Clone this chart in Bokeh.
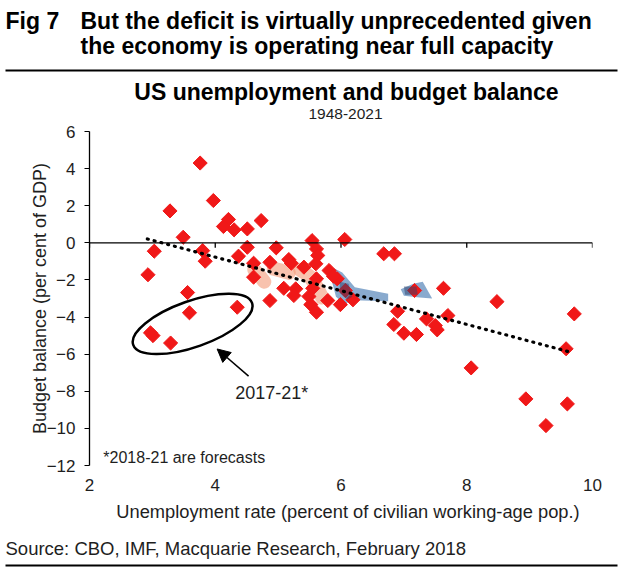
from bokeh.plotting import figure
from bokeh.layouts import column
from bokeh.models import Range1d, Label, Arrow, NormalHead, Span, FixedTicker
from bokeh.core.properties import value
from bokeh.embed import file_html
from bokeh.resources import INLINE
import math

# ---------------- data ----------------
unemployment = [3.76, 3.97, 3.28, 4.21, 4.13, 4.30, 4.51, 4.73, 3.49, 3.03,
                3.80, 3.84, 4.51, 4.37, 4.61, 2.93, 4.61, 4.87, 4.97, 5.17,
                5.21, 5.41, 5.54, 5.61, 5.63, 5.60, 5.81, 5.94, 5.61, 6.06,
                6.68, 6.85, 5.09, 5.28, 5.25, 5.49, 5.52, 5.61, 5.79, 5.99,
                6.19, 4.87, 6.07, 7.17, 7.63, 8.48, 9.71, 6.90, 6.84, 7.00,
                7.20, 7.36, 7.50, 7.53, 7.70, 9.58, 8.07, 8.94, 9.60, 9.26,
                3.56, 3.59, 4.35, 2.97, 3.01, 3.29, 5.88, 5.55]
budget_balance = [4.30, 2.28, 1.72, 1.26, 0.88, 0.70, 0.75, 1.20, 0.30, -0.45,
                  -0.42, -0.99, -0.24, -0.72, -1.10, -1.72, -1.85, -1.05, -0.27, -0.90,
                  -1.10, -1.31, 0.12, -0.33, -0.68, -1.13, -1.49, -1.94, -1.94, 0.18,
                  -0.59, -0.59, -2.45, -2.48, -2.84, -2.89, -3.33, -3.74, -3.11, -3.33,
                  -3.07, -3.11, -2.57, -2.57, -2.45, -3.17, -3.83, -3.69, -4.40, -4.87,
                  -4.94, -4.10, -4.46, -4.69, -3.92, -5.71, -6.74, -8.41, -8.68, -9.85,
                  -2.68, -3.77, -3.47, -4.85, -5.00, -5.40, -1.80, -2.45]

trend_x = [2.92, 9.66]
trend_y = [0.21, -5.90]

x_ticks = [2, 4, 6, 8, 10]
y_ticks = [-12, -10, -8, -6, -4, -2, 0, 2, 4, 6]

# faint shaded smudges in the source picture
orange_smudge_x = [[4.62, 4.70, 4.78], [4.93, 5.05, 5.17], [5.35, 5.50, 5.62, 5.70]]
orange_smudge_y = [[-1.45, -1.75, -2.10], [-1.40, -1.50, -1.62], [-1.45, -1.80, -2.40, -2.95]]
blue_smudge_x = [[5.88, 6.02, 6.22, 6.75, 6.75, 6.20, 6.05, 5.92, 5.85],
                 [6.95, 7.15, 7.30, 7.45, 7.25, 7.00]]
blue_smudge_y = [[-1.35, -1.60, -2.40, -2.75, -3.15, -3.10, -3.30, -2.90, -2.00],
                 [-2.50, -2.20, -2.10, -3.00, -2.95, -2.85]]
dark_smudge_x = [[5.98, 6.12, 6.18, 6.10, 5.98], [7.00, 7.20, 7.22, 7.02]]
dark_smudge_y = [[-2.10, -2.20, -2.90, -3.05, -2.70], [-2.35, -2.35, -2.80, -2.80]]

ellipse_center = (3.64, -4.37)
arrow_tail = (4.53, -7.18)
arrow_tip = (4.03, -5.72)

FONT = "Liberation Sans"
W = 622
TXT = "#1e1e1e"

# ---------------- header ----------------
hdr = figure(width=W, height=120, x_range=Range1d(0, W), y_range=Range1d(120, 0),
             x_axis_type=None, y_axis_type=None, toolbar_location=None,
             output_backend="svg", min_border=0, outline_line_color=None,
             frame_align=False)
hdr.grid.visible = False
hdr.text(x=[5], y=[20], text=["Fig 7"], text_font=value(FONT), text_font_style="bold",
         text_font_size="23px", text_baseline="middle", text_color="black")
hdr.text(x=[80, 80], y=[20, 45],
         text=["But the deficit is virtually unprecedented given",
               "the economy is operating near full capacity"],
         text_font=value(FONT), text_font_style="bold",
         text_font_size="23px", text_baseline="middle", text_color="black")
hdr.segment(x0=[5], y0=[70], x1=[617], y1=[70], line_color="black", line_width=2)
hdr.text(x=[346], y=[91], text=["US unemployment and budget balance"],
         text_font=value(FONT), text_font_style="bold", text_font_size="23px",
         text_baseline="middle", text_align="center", text_color="black")
hdr.text(x=[345], y=[113], text=["1948-2021"], text_font=value(FONT),
         text_font_size="15.5px", text_baseline="middle", text_align="center",
         text_color=TXT)

# ---------------- main chart ----------------
p = figure(width=W, height=380, x_range=Range1d(2, 10), y_range=Range1d(-12, 6),
           toolbar_location=None, output_backend="svg",
           min_border_left=89, min_border_right=30, min_border_top=11, min_border_bottom=35,
           outline_line_color=None, frame_align=False)
p.grid.visible = False

p.yaxis.ticker = FixedTicker(ticks=y_ticks)
p.yaxis.axis_line_color = "black"
p.yaxis.axis_line_width = 1.3
p.yaxis.major_tick_line_color = "black"
p.yaxis.major_tick_in = 0
p.yaxis.major_tick_out = 5
p.yaxis.minor_tick_line_color = None
p.yaxis.major_label_standoff = 9
p.yaxis.major_label_text_font = FONT
p.yaxis.major_label_text_font_size = "17px"
p.yaxis.major_label_text_color = TXT
p.yaxis.axis_label = "Budget balance (per cent of GDP)"
p.yaxis.axis_label_text_font = FONT
p.yaxis.axis_label_text_font_size = "18px"
p.yaxis.axis_label_text_font_style = "normal"
p.yaxis.axis_label_text_color = TXT
p.yaxis.axis_label_standoff = -6

p.xaxis.ticker = FixedTicker(ticks=x_ticks)
p.xaxis.axis_line_color = None
p.xaxis.major_tick_line_color = None
p.xaxis.minor_tick_line_color = None
p.xaxis.major_tick_in = 0
p.xaxis.major_tick_out = 0
p.xaxis.major_label_standoff = 13
p.xaxis.major_label_text_font = FONT
p.xaxis.major_label_text_font_size = "17px"
p.xaxis.major_label_text_color = TXT

# zero line acting as the x axis, with ticks hanging down
p.add_layout(Span(location=0, dimension="width", line_color="black", line_width=1.3))
p.segment(x0=x_ticks, y0=[0] * len(x_ticks), x1=x_ticks, y1=[-0.27] * len(x_ticks),
          line_color="black", line_width=1.3)

# smudges
p.multi_line(xs=orange_smudge_x, ys=orange_smudge_y, line_color="#F39A78",
             line_width=14, line_alpha=0.6, line_cap="round", line_join="round")
p.patches(xs=blue_smudge_x, ys=blue_smudge_y, fill_color="#4A7DB3", fill_alpha=0.65,
          line_color=None)

# points
p.scatter(unemployment, budget_balance, marker="square", size=10, angle=math.pi / 4,
          fill_color="#F01818", line_color="#F01818", line_width=1)

p.patches(xs=dark_smudge_x, ys=dark_smudge_y, fill_color="#2F3F6A", fill_alpha=0.5,
          line_color=None)

# trend line
p.line(trend_x, trend_y, line_color="black", line_width=3.2, line_dash="1 6",
       line_cap="round")

# ellipse around 2017-21
p.ellipse(x=[ellipse_center[0]], y=[ellipse_center[1]], width=126, height=46,
          width_units="screen", height_units="screen", angle=0.34,
          fill_color=None, line_color="black", line_width=2.5)

p.add_layout(Arrow(x_start=arrow_tail[0], y_start=arrow_tail[1],
                   x_end=arrow_tip[0], y_end=arrow_tip[1],
                   line_color="black", line_width=1.5,
                   end=NormalHead(size=13, fill_color="black", line_color="black")))

p.add_layout(Label(x=4.9, y=-8.1, text="2017-21*", text_font=FONT,
                   text_font_size="18px", text_align="center", text_baseline="middle",
                   text_color=TXT))
p.add_layout(Label(x=2.22, y=-11.58, text="*2018-21 are forecasts", text_font=FONT,
                   text_font_size="16px", text_align="left", text_baseline="middle",
                   text_color=TXT))

# ---------------- footer (x-axis title, source, rule) ----------------
ftr = figure(width=W, height=71, x_range=Range1d(0, W), y_range=Range1d(71, 0),
             x_axis_type=None, y_axis_type=None, toolbar_location=None,
             output_backend="svg", min_border=0, outline_line_color=None,
             frame_align=False)
ftr.grid.visible = False
ftr.text(x=[350], y=[10.5], text=["Unemployment  rate (percent of civilian working-age pop.)"],
         text_font=value(FONT), text_font_size="18.3px", text_baseline="middle",
         text_align="center", text_color=TXT)
ftr.text(x=[5], y=[48], text=["Source: CBO, IMF, Macquarie Research, February 2018"],
         text_font=value(FONT), text_font_size="18.5px", text_baseline="middle",
         text_color=TXT)
ftr.segment(x0=[5], y0=[65], x1=[617], y1=[65], line_color="black", line_width=2)

layout = column(hdr, p, ftr, spacing=0)
open("out.html", "w").write(file_html(layout, INLINE))
